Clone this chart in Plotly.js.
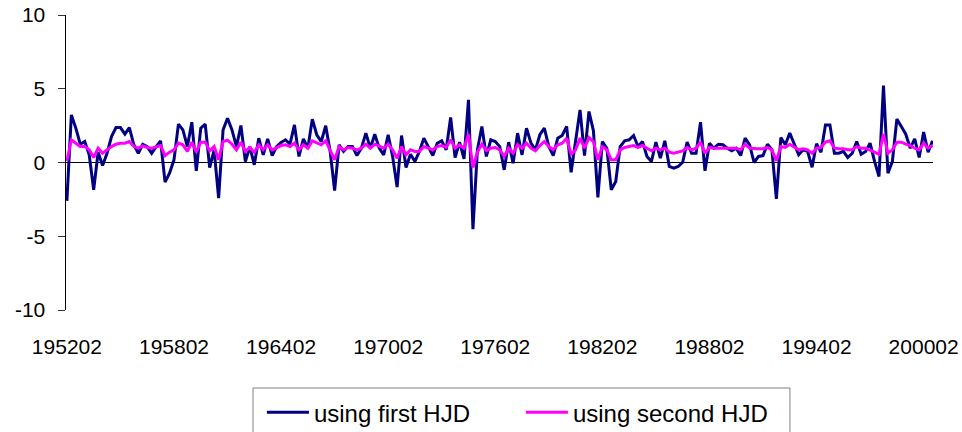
<!DOCTYPE html>
<html>
<head>
<meta charset="utf-8">
<script src="https://cdn.plot.ly/plotly-3.0.1.min.js"></script>
<style>
html,body{margin:0;padding:0;background:#fff;}
#chart{width:962px;height:432px;}
</style>
</head>
<body>
<div id="chart"></div>
<script>
// Quarterly periods, first one 1952 Q2
var startYear = 1952;
var startQuarter = 2;
var nPeriods = 195;

var firstHJD = [
 -2.60, 3.23, 2.33, 1.24, 1.42, 0.52, -1.85, 0.70, -0.20, 0.63,
  1.76, 2.37, 2.37, 1.92, 2.37, 1.20, 0.63, 1.24, 1.08, 0.63,
  1.08, 1.47, -1.33, -0.72, 0.18, 2.60, 2.21, 1.08, 2.73, -0.56,
  2.33, 2.60, -0.34, 0.86, -2.42, 2.21, 3.00, 2.21, 1.08, 2.51,
  0.07, 1.08, -0.16, 1.65, 0.52, 1.60, 0.47, 1.08, 1.36, 1.54,
  1.24, 2.55, 0.41, 1.60, 0.97, 2.94, 1.88, 1.42, 2.49, 0.75,
 -1.90, 1.20, 0.75, 1.08, 1.08, 0.47, 0.97, 1.99, 0.97, 1.92,
  0.97, 0.52, 1.88, 0.41, -1.67, 1.83, -0.34, 0.56, 0.07, 0.75,
  1.65, 1.08, 0.47, 1.31, 1.47, 0.86, 3.05, 0.34, 1.38, 0.25,
  4.25, -4.52, 0.86, 2.44, 0.41, 1.54, 1.42, 1.08, -0.50, 1.38,
 -0.05, 1.99, 0.52, 2.33, 1.31, 0.86, 1.88, 2.33, 1.08, 0.47,
  1.65, 1.83, 2.44, -0.66, 1.42, 3.57, 0.47, 3.46, 2.15, -2.37,
  1.42, 0.97, -1.85, -1.29, 1.08, 1.47, 1.54, 1.83, 1.08, 1.42,
  0.41, 0.07, 1.38, 0.29, 1.47, -0.27, -0.38, -0.27, 0.02, 1.38,
  0.63, 0.63, 2.73, -0.56, 1.31, 0.97, 1.24, 1.20, 0.97, 0.79,
  0.97, 0.47, 1.65, 1.20, 0.00, 0.41, 0.47, 1.24, 0.86, -2.46,
  1.69, 1.20, 1.99, 1.20, 0.52, 0.86, 0.75, -0.32, 1.27, 0.70,
  2.55, 2.55, 0.63, 0.63, 0.75, 0.34, 0.63, 1.42, 0.56, 0.75,
  1.31, 0.07, -0.95, 5.22, -0.72, 0.07, 2.94, 2.44, 1.92, 0.97,
  1.60, 0.34, 2.06, 0.70, 1.47
];

var secondHJD = [
  0.11, 1.54, 1.31, 1.08, 1.08, 0.86, 0.34, 0.97, 0.63, 0.86,
  1.08, 1.24, 1.31, 1.31, 1.42, 1.08, 0.97, 1.13, 1.02, 0.97,
  1.06, 1.15, 0.47, 0.70, 0.86, 1.31, 1.20, 0.75, 1.38, 0.70,
  1.38, 1.38, 0.79, 1.08, 0.18, 1.42, 1.51, 1.24, 0.86, 1.38,
  0.75, 1.02, 0.70, 1.20, 0.86, 1.20, 0.86, 1.02, 1.15, 1.20,
  1.08, 1.31, 0.86, 1.20, 0.97, 1.47, 1.31, 1.20, 1.47, 0.86,
  0.18, 1.08, 0.86, 1.02, 0.97, 0.86, 0.97, 1.24, 0.97, 1.24,
  1.08, 0.97, 1.24, 0.86, 0.29, 1.08, 0.52, 0.86, 0.75, 0.75,
  1.08, 0.97, 0.86, 1.08, 1.15, 1.02, 1.54, 0.97, 1.20, 0.97,
  1.92, -0.34, 0.70, 1.24, 0.79, 0.97, 1.02, 0.86, 0.41, 0.97,
  0.63, 1.20, 0.97, 1.31, 0.97, 0.79, 1.15, 1.42, 1.08, 0.86,
  1.20, 1.31, 1.65, 0.56, 0.86, 1.65, 0.97, 1.69, 1.42, 0.18,
  1.08, 0.86, 0.18, 0.18, 0.86, 1.02, 1.08, 1.15, 1.02, 1.15,
  0.97, 0.79, 0.97, 0.86, 0.97, 0.70, 0.63, 0.70, 0.79, 1.02,
  0.86, 0.97, 1.38, 0.63, 1.02, 0.97, 0.97, 1.02, 0.97, 1.02,
  0.97, 0.86, 1.24, 0.97, 0.93, 0.93, 0.93, 1.02, 0.86, 0.11,
  1.08, 1.02, 1.24, 1.02, 0.86, 0.93, 0.86, 0.63, 0.97, 1.02,
  1.38, 1.47, 0.97, 0.93, 0.93, 0.86, 0.86, 1.08, 0.97, 0.97,
  0.86, 0.70, 0.56, 1.92, 0.63, 0.86, 1.38, 1.38, 1.24, 1.15,
  0.97, 0.86, 1.31, 0.97, 1.15
];

var yTickVals = [-10, -5, 0, 5, 10];
var yTickText = ["-10", "-5", "0", "5", "10"];
var seriesNames = ["using first HJD", "using second HJD"];

// build category labels YYYYQQ
var categories = [];
(function(){
  var y = startYear, q = startQuarter;
  for (var i = 0; i < nPeriods; i++) {
    categories.push(String(y) + "0" + q);
    q++; if (q > 4) { q = 1; y++; }
  }
})();
var xTickVals = [];
for (var k = 0; k < categories.length; k += 24) xTickVals.push(categories[k]);

var font = {family: "Liberation Sans, Arial, sans-serif", size: 21, color: "#000"};
var legendFont = {family: "Liberation Sans, Arial, sans-serif", size: 24, color: "#000"};

var traces = [
  {x: categories, y: firstHJD, type: "scatter", mode: "lines", name: seriesNames[0],
   line: {color: "#000080", width: 3}},
  {x: categories, y: secondHJD, type: "scatter", mode: "lines", name: seriesNames[1],
   line: {color: "#FF00FF", width: 3}}
];

var layout = {
  width: 962, height: 432,
  margin: {l: 66, r: 29, t: 15, b: 122, autoexpand: false},
  paper_bgcolor: "#fff", plot_bgcolor: "#fff",
  font: font,
  showlegend: true,
  xaxis: {
    type: "category", range: [-0.2, 194.1],
    tickmode: "array", tickvals: xTickVals, ticktext: xTickVals,
    showgrid: false, zeroline: false, showline: false, ticks: "",
    ticklabelstandoff: 22, tickfont: font, fixedrange: true
  },
  yaxis: {
    range: [-10, 10], tickmode: "array", tickvals: yTickVals, ticktext: yTickText,
    showgrid: false, zeroline: true, zerolinecolor: "#000", zerolinewidth: 1.5,
    showline: true, linecolor: "#000", linewidth: 1.5,
    ticks: "outside", ticklen: 7, tickcolor: "#333", tickwidth: 1,
    ticklabelstandoff: 8, tickfont: font, fixedrange: true
  },
  legend: {
    orientation: "h", x: 0.226, xanchor: "left", y: -0.272, yanchor: "top",
    bgcolor: "rgba(0,0,0,0)", borderwidth: 0, font: legendFont,
    itemwidth: 42, entrywidth: 202, traceorder: "normal"
  },
  shapes: [{
    type: "rect", xref: "paper", yref: "paper",
    x0: 0.2157, x1: 0.835, y0: -0.2644, y1: -0.47,
    line: {color: "#808080", width: 1}, fillcolor: "rgba(0,0,0,0)"
  }]
};

Plotly.newPlot("chart", traces, layout, {displayModeBar: false, staticPlot: true});
</script>
</body>
</html>
